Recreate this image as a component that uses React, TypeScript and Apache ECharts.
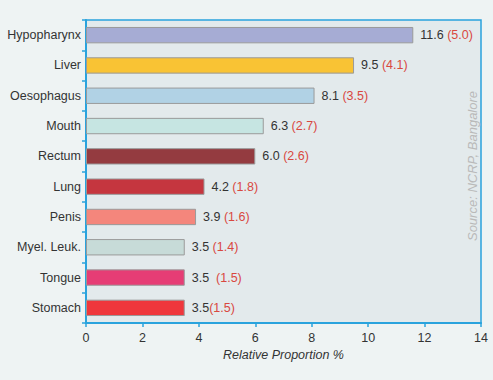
import React, { useEffect, useRef } from "react";
import * as echarts from "echarts";

const categories = ["Hypopharynx", "Liver", "Oesophagus", "Mouth", "Rectum", "Lung", "Penis", "Myel. Leuk.", "Tongue", "Stomach"];
const values = [11.6, 9.5, 8.1, 6.3, 6.0, 4.2, 3.9, 3.5, 3.5, 3.5];
const shares = ["5.0", "4.1", "3.5", "2.7", "2.6", "1.8", "1.6", "1.4", "1.5", "1.5"];
const separators = [" ", " ", " ", " ", " ", " ", " ", " ", "  ", ""];
const colors = ["#a6acd4", "#f9c334", "#b1d2e5", "#c6e5e2", "#943b40", "#c5363f", "#f4867c", "#c7dbd8", "#e63d75", "#ef373c"];
const xTicks = [0, 2, 4, 6, 8, 10, 12, 14];

export default function App() {
  const ref = useRef<HTMLDivElement>(null);
  useEffect(() => {
    if (!ref.current) return;
    const chart = echarts.init(ref.current, undefined, { renderer: "svg" });
    const font = "'Liberation Sans', Arial, sans-serif";
    const blue = "#2aa3dd";
    const fs = 12.5;
    chart.setOption({
      animation: false,
      backgroundColor: "#eef3f3",
      textStyle: { fontFamily: font },
      grid: {
        left: 86, right: 12, top: 20, bottom: 57,
        show: true, backgroundColor: "#e3eaec", borderColor: blue, borderWidth: 1.5,
      },
      xAxis: {
        type: "value", min: xTicks[0], max: xTicks[xTicks.length - 1], interval: 2,
        splitLine: { show: false },
        axisLine: { show: true, lineStyle: { color: blue, width: 2 } },
        axisTick: { show: true, length: 4, lineStyle: { color: blue, width: 1.5 } },
        axisLabel: { color: "#333", fontSize: fs, margin: 8, fontFamily: font },
        name: "Relative Proportion %", nameLocation: "middle", nameGap: 23,
        nameTextStyle: { color: "#333", fontSize: fs, fontStyle: "italic", fontFamily: font },
      },
      yAxis: {
        type: "category", data: categories, inverse: true,
        axisLine: { show: true, lineStyle: { color: blue, width: 2 } },
        axisTick: { show: true, length: 4, lineStyle: { color: blue, width: 1.5 } },
        axisLabel: { color: "#333", fontSize: fs, margin: 5, fontFamily: font },
      },
      series: [{
        type: "bar",
        barCategoryGap: "46%",
        data: values.map((v, i) => ({
          value: v,
          itemStyle: { color: colors[i], borderColor: "#9a9a9a", borderWidth: 1 },
        })),
        label: {
          show: true, position: "right", distance: 7,
          formatter: (p: any) => `{a|${values[p.dataIndex].toFixed(1)}${separators[p.dataIndex]}}{b|(${shares[p.dataIndex]})}`,
          rich: {
            a: { color: "#333", fontSize: fs, fontFamily: font },
            b: { color: "#d9483f", fontSize: fs, fontFamily: font },
          },
        },
      }],
      graphic: [{
        type: "text", x: 472, y: 166, rotation: Math.PI / 2,
        style: {
          text: "Source: NCRP, Bangalore", fill: "#b9b9b9", fontSize: 13, fontStyle: "italic",
          fontFamily: font, align: "center", verticalAlign: "middle",
        },
      }],
    });
    return () => chart.dispose();
  }, []);
  return <div ref={ref} style={{ width: 493, height: 380, position: "absolute", left: 0, top: 0 }} />;
}
